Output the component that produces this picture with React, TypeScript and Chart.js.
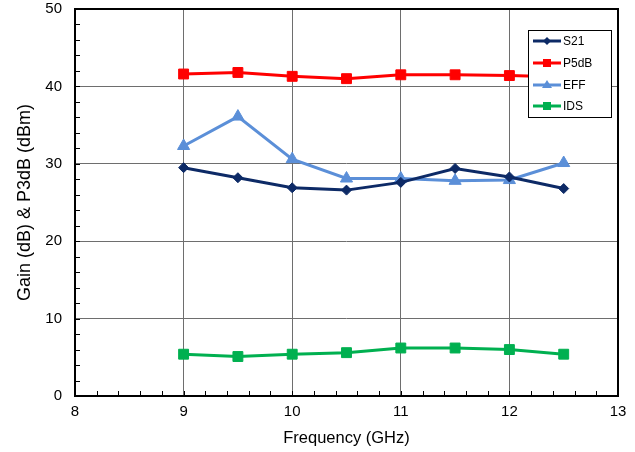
import { useEffect, useRef } from "react";
import { Chart, registerables } from "chart.js";

Chart.register(...registerables);

// Frequency sweep (GHz) and measured quantities
const freqs = [9, 9.5, 10, 10.5, 11, 11.5, 12, 12.5];
const s21 = [29.5, 28.2, 26.9, 26.6, 27.6, 29.4, 28.3, 26.8];
const p5db = [41.6, 41.8, 41.3, 41.0, 41.5, 41.5, 41.4, 41.2];
const eff = [32.3, 36.1, 30.6, 28.1, 28.1, 27.8, 27.9, 30.1];
const ids = [5.4, 5.1, 5.4, 5.6, 6.2, 6.2, 6.0, 5.4];

const seriesNames = ["S21", "P5dB", "EFF", "IDS"];
const seriesColors = ["#0d2a66", "#ff0000", "#5b8fd8", "#00b050"];
const seriesMarkers = ["rectRot", "rect", "triangle", "rect"];
const seriesRadius = [5, 7, 7, 7];

const xTitle = "Frequency (GHz)";
const yTitle = "Gain (dB) & P3dB (dBm)";

const FONT = "'Liberation Sans', Arial, sans-serif";

// Frame around the plot area and inward minor ticks
const framePlugin = {
  id: "frame",
  afterDatasetsDraw(chart: any) {
    const { ctx, chartArea: a, scales } = chart;
    ctx.save();
    ctx.strokeStyle = "#000";
    ctx.lineWidth = 1;
    ctx.beginPath();
    for (let v = 0; v <= 50; v += 2) {
      const y = Math.round(scales.y.getPixelForValue(v)) + 0.5;
      ctx.moveTo(a.left, y);
      ctx.lineTo(a.left + 5, y);
    }
    for (let i = 0; i <= 25; i++) {
      const x = Math.round(scales.x.getPixelForValue(8 + i * 0.2)) + 0.5;
      ctx.moveTo(x, a.bottom);
      ctx.lineTo(x, a.bottom - 5);
    }
    ctx.stroke();
    ctx.lineWidth = 2;
    ctx.strokeRect(a.left, a.top, a.right - a.left, a.bottom - a.top);
    ctx.restore();
  },
};

// Small marker glyph for the legend rows
function legendMarker(ctx: CanvasRenderingContext2D, style: string, x: number, y: number) {
  ctx.beginPath();
  if (style === "rectRot") {
    ctx.moveTo(x, y - 4);
    ctx.lineTo(x + 4, y);
    ctx.lineTo(x, y + 4);
    ctx.lineTo(x - 4, y);
  } else if (style === "triangle") {
    ctx.moveTo(x, y - 5);
    ctx.lineTo(x + 5, y + 3);
    ctx.lineTo(x - 5, y + 3);
  } else {
    ctx.rect(x - 4, y - 4, 8, 8);
  }
  ctx.closePath();
  ctx.fill();
}

// Boxed legend drawn on top of the data, inside the plot area
const legendPlugin = {
  id: "boxLegend",
  afterDatasetsDraw(chart: any) {
    const { ctx } = chart;
    const bx = 528.5, by = 30.5, bw = 83, bh = 87;
    ctx.save();
    ctx.fillStyle = "#fff";
    ctx.fillRect(bx, by, bw, bh);
    ctx.strokeStyle = "#000";
    ctx.lineWidth = 1;
    ctx.strokeRect(bx, by, bw, bh);
    const rows = [41, 63, 85, 106];
    chart.data.datasets.forEach((ds: any, i: number) => {
      const y = rows[i];
      ctx.strokeStyle = ds.borderColor;
      ctx.lineWidth = 3;
      ctx.beginPath();
      ctx.moveTo(533, y);
      ctx.lineTo(561, y);
      ctx.stroke();
      ctx.fillStyle = ds.borderColor;
      legendMarker(ctx, ds.pointStyle, 547, y);
      ctx.fillStyle = "#000";
      ctx.font = `12px ${FONT}`;
      ctx.textBaseline = "middle";
      ctx.textAlign = "left";
      ctx.fillText(ds.label, 563, y + 1);
    });
    ctx.restore();
  },
};

export default function App() {
  const ref = useRef<HTMLCanvasElement | null>(null);

  useEffect(() => {
    if (!ref.current) return;
    const datasets = [s21, p5db, eff, ids].map((vals, i) => ({
      label: seriesNames[i],
      data: freqs.map((f, j) => ({ x: f, y: vals[j] })),
      borderColor: seriesColors[i],
      backgroundColor: seriesColors[i],
      borderWidth: 3,
      pointStyle: seriesMarkers[i],
      pointRadius: seriesRadius[i],
      pointBorderWidth: 1,
      tension: 0,
    }));

    const chart = new Chart(ref.current, {
      type: "line",
      data: { datasets },
      options: {
        responsive: false,
        animation: false,
        layout: { padding: { top: 9, right: 17, left: 0, bottom: 0 } },
        plugins: { legend: { display: false }, tooltip: { enabled: false } },
        scales: {
          x: {
            type: "linear",
            min: 8,
            max: 13,
            ticks: { stepSize: 1, color: "#000", padding: 7, font: { family: FONT, size: 15 } },
            grid: {
              drawTicks: false,
              color: (c: any) => (c.tick && (c.tick.value === 8 || c.tick.value === 13) ? "rgba(0,0,0,0)" : "#6e6e6e"),
            },
            border: { display: false },
            title: {
              display: true,
              text: xTitle,
              color: "#000",
              font: { family: FONT, size: 16.5 },
              padding: { top: 0, bottom: 4 },
            },
            afterFit: (s: any) => {
              s.height = 56;
              s.paddingLeft = 0;
              s.paddingRight = 0;
            },
          },
          y: {
            type: "linear",
            min: 0,
            max: 50,
            ticks: { stepSize: 10, color: "#000", padding: 13, font: { family: FONT, size: 15 } },
            grid: {
              drawTicks: false,
              color: (c: any) => (c.tick && (c.tick.value === 0 || c.tick.value === 50) ? "rgba(0,0,0,0)" : "#6e6e6e"),
            },
            border: { display: false },
            title: {
              display: true,
              text: yTitle,
              color: "#000",
              font: { family: FONT, size: 18 },
              padding: { top: 14, bottom: 0 },
            },
            afterFit: (s: any) => {
              s.width = 75;
              s.paddingTop = 0;
              s.paddingBottom = 0;
            },
          },
        },
      },
      plugins: [framePlugin, legendPlugin],
    });
    return () => chart.destroy();
  }, []);

  return (
    <div style={{ position: "fixed", left: 0, top: 0, width: 635, height: 452, background: "#fff" }}>
      <canvas ref={ref} width={635} height={452} />
    </div>
  );
}
